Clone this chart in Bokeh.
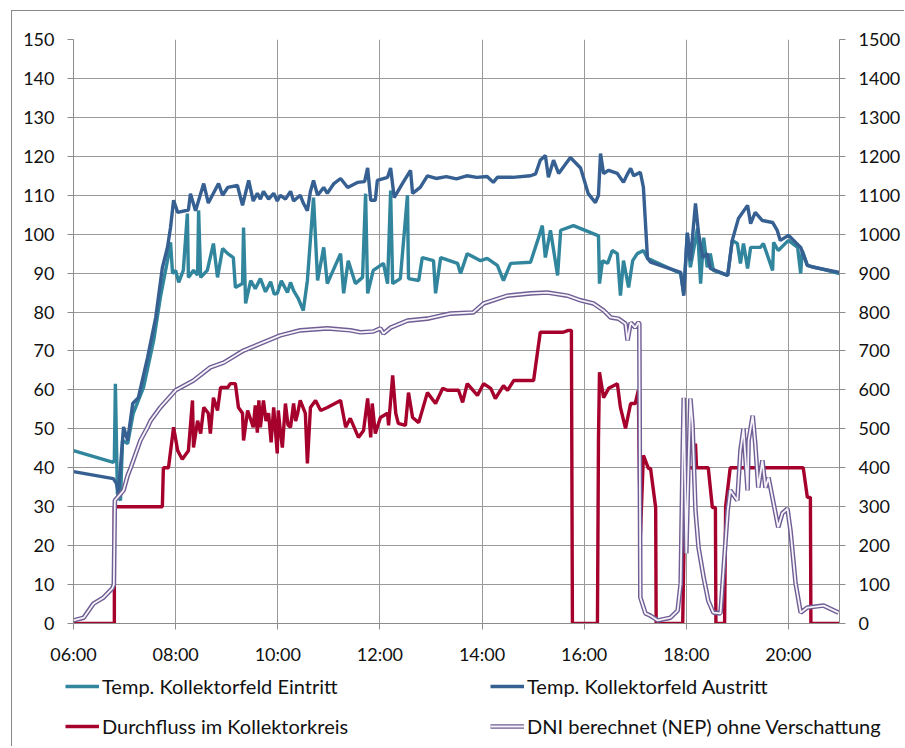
from bokeh.plotting import figure
from bokeh.models import Range1d, LinearAxis, FixedTicker, Legend, LegendItem
from bokeh.embed import file_html
from bokeh.resources import INLINE

# ---------------- data (time in decimal hours) ----------------
tick_hours = [6, 8, 10, 12, 14, 16, 18, 20]
tick_labels = ["06:00", "08:00", "10:00", "12:00", "14:00", "16:00", "18:00", "20:00"]

series_names = ["Temp. Kollektorfeld Eintritt", "Temp. Kollektorfeld Austritt",
                "Durchfluss im Kollektorkreis", "DNI berechnet (NEP) ohne Verschattung"]

aus_t = [6.00, 6.78, 6.84, 6.88, 6.98, 7.06, 7.16, 7.27, 7.45, 7.61, 7.74, 7.84, 7.90, 7.96,
         8.04, 8.25, 8.29, 8.39, 8.55, 8.64, 8.84, 8.92, 9.02, 9.21, 9.31, 9.43, 9.52, 9.60,
         9.66, 9.72, 9.82, 9.92, 9.99, 10.05, 10.15, 10.25, 10.31, 10.44, 10.50, 10.58, 10.64,
         10.70, 10.78, 10.90, 10.97, 11.10, 11.23, 11.37, 11.56, 11.70, 11.76, 11.82, 11.91,
         11.95, 12.15, 12.21, 12.28, 12.44, 12.60, 12.64, 12.79, 12.93, 13.10, 13.30, 13.50,
         13.70, 13.90, 14.10, 14.22, 14.30, 14.60, 14.95, 15.05, 15.14, 15.24, 15.30, 15.40,
         15.50, 15.73, 15.93, 16.08, 16.22, 16.28, 16.32, 16.38, 16.48, 16.65, 16.77, 16.85,
         16.91, 16.97, 17.10, 17.16, 17.24, 17.30, 17.89, 17.95, 18.02, 18.08, 18.18, 18.24,
         18.32, 18.41, 18.47, 18.81, 18.90, 19.02, 19.20, 19.26, 19.35, 19.49, 19.69, 19.78,
         19.84, 20.00, 20.24, 20.37, 20.49, 21.00]
aus_v = [39.0, 37.2, 36.0, 33.4, 50.5, 47.0, 56.5, 58.0, 68.3, 78.6, 91.4, 96.6, 101.7, 108.7,
         105.6, 106.2, 110.4, 106.0, 113.0, 108.0, 113.0, 110.0, 112.0, 112.5, 107.4, 113.8, 108.5, 110.5,
         109.0, 111.0, 109.0, 110.5, 108.5, 110.0, 109.0, 111.0, 108.5, 110.0, 108.0, 106.0, 111.0,
         113.8, 110.0, 112.0, 110.5, 113.0, 114.3, 112.0, 113.3, 113.5, 117.0, 108.7, 108.7,
         113.8, 114.6, 117.0, 109.4, 113.0, 116.4, 110.5, 112.0, 115.0, 114.3, 114.8, 114.2,
         115.0, 114.6, 114.8, 113.3, 114.6, 114.6, 115.0, 115.5, 119.0, 120.2, 114.6, 119.0,
         115.6, 119.7, 117.0, 110.4, 108.1, 110.0, 120.7, 115.6, 116.4, 115.6, 113.3, 115.5,
         116.9, 115.0, 115.9, 112.0, 93.8, 92.8, 90.2, 84.2, 100.4, 93.2, 107.9, 100.2,
         94.0, 95.0, 91.2, 89.4, 98.4, 104.0, 107.4, 102.7, 105.6, 103.5, 103.0, 101.0,
         98.4, 99.7, 96.6, 92.0, 91.5, 90.2]

ein_t = [6.00, 6.78, 6.80, 6.82, 6.86, 6.92, 6.96, 7.06, 7.17, 7.37, 7.57, 7.70, 7.84, 7.90,
         7.94, 8.00, 8.06, 8.15, 8.23, 8.25, 8.35, 8.43, 8.45, 8.49, 8.62, 8.74, 8.82, 8.92,
         9.02, 9.13, 9.17, 9.31, 9.33, 9.37, 9.47, 9.56, 9.66, 9.76, 9.86, 9.93, 9.99, 10.07,
         10.19, 10.25, 10.31, 10.40, 10.50, 10.58,
         10.70, 10.78, 10.90, 10.97, 11.23, 11.29, 11.38, 11.52, 11.66, 11.72, 11.76, 11.87,
         12.07, 12.15, 12.21, 12.25, 12.40, 12.54, 12.56, 12.76, 12.83, 13.05, 13.09, 13.19,
         13.52, 13.58, 13.71, 13.97, 14.10, 14.30, 14.42, 14.56, 14.95, 15.09, 15.18, 15.24,
         15.34, 15.48, 15.54, 15.79, 16.26, 16.28, 16.30, 16.36, 16.46, 16.55, 16.65, 16.71,
         16.77, 16.87, 16.95, 17.04, 17.16, 17.24, 17.89, 17.95, 18.02, 18.08, 18.22, 18.28,
         18.34, 18.41, 18.47, 18.53, 18.81, 18.90, 19.00, 19.06, 19.12, 19.20, 19.26, 19.45,
         19.51, 19.69, 19.71, 19.80, 20.00, 20.18, 20.24, 20.27, 20.37, 21.00]
ein_v = [44.4, 41.4, 42.0, 61.6, 33.4, 31.6, 47.0, 46.2, 54.0, 60.6, 72.7, 83.7, 93.2, 97.9,
         89.9, 90.7, 87.6, 90.7, 105.3, 88.9, 90.7, 89.5, 106.1, 88.9, 90.7, 97.6, 88.9, 96.3,
         95.0, 94.0, 86.3, 87.3, 101.7, 82.2, 88.1, 86.0, 88.6, 85.2, 87.8, 84.6, 84.8, 88.0,
         85.0, 87.6, 85.5, 83.5, 80.4, 88.1,
         109.4, 88.1, 96.6, 87.3, 95.0, 84.8, 93.2, 87.3, 88.9, 110.4, 84.8, 90.7,
         92.5, 87.3, 111.2, 87.3, 88.6, 110.0, 88.6, 88.1, 94.0, 93.2, 84.8, 94.0,
         92.5, 89.9, 95.0, 93.2, 93.8, 92.0, 88.1, 92.5, 92.8, 98.4, 102.2, 94.0,
         101.0, 89.4, 101.0, 102.2, 99.7, 99.7, 87.3, 93.2, 92.5, 95.8, 95.0, 84.2,
         93.2, 86.3, 93.2, 95.0, 95.8, 93.8, 89.9, 84.8, 100.2, 91.5, 101.5, 87.3,
         99.1, 91.5, 95.0, 90.7, 89.4, 98.4, 97.6, 92.5, 97.6, 91.2, 96.6, 96.6,
         97.6, 90.7, 97.9, 95.8, 98.4, 96.6, 89.9, 95.8, 92.0, 89.9]

flow_t = [6.00, 6.80, 6.80, 7.74, 7.76, 7.86, 7.96, 8.04, 8.13, 8.25, 8.33, 8.35, 8.43, 8.49,
          8.55, 8.64, 8.68, 8.74, 8.82, 8.88, 9.02, 9.07, 9.17, 9.23, 9.31, 9.33, 9.41, 9.52,
          9.56, 9.60, 9.63, 9.66, 9.72, 9.77, 9.82, 9.87, 9.92, 9.99, 10.01, 10.05, 10.09,
          10.15, 10.20, 10.25, 10.31, 10.35, 10.39, 10.44,
          10.54, 10.58, 10.64, 10.74, 10.84, 10.97, 11.23, 11.33, 11.42, 11.58, 11.68, 11.76,
          11.82, 11.85, 11.91, 12.01, 12.15, 12.17, 12.25, 12.31, 12.36, 12.50, 12.56, 12.64,
          12.76, 12.93, 13.09, 13.23, 13.32, 13.54, 13.62, 13.71, 13.91, 14.03, 14.17, 14.26,
          14.42, 14.50, 14.62, 15.01, 15.14, 15.59, 15.69, 15.75, 15.77, 16.26, 16.28, 16.30,
          16.38, 16.48, 16.65, 16.71, 16.81, 16.91, 17.00, 17.06, 17.10, 17.16, 17.26, 17.30,
          17.40, 17.41, 17.93, 17.98, 18.16, 18.18, 18.20, 18.43, 18.51, 18.57, 18.58, 18.75,
          18.77, 18.86, 20.29, 20.37, 20.43, 20.44, 21.00]
flow_v = [0, 0, 30, 30, 40, 40, 50.4, 44.4, 42.2, 44.4, 57.3, 45.2, 52.1, 48.8,
          55.5, 54.0, 48.8, 58.0, 54.7, 60.6, 60.6, 61.6, 61.6, 55.5, 54.0, 47.0, 54.7, 50.4,
          56.0, 49.0, 57.3, 50.4, 57.3, 52.0, 54.0, 46.5, 55.5, 43.7, 54.7, 49.5, 45.2,
          56.5, 51.0, 50.4, 56.5, 52.0, 54.0, 57.3,
          54.0, 41.1, 55.5, 57.3, 54.7, 55.5, 57.3, 50.4, 52.7, 47.8, 49.6, 57.8,
          47.8, 56.5, 48.8, 52.9, 54.0, 50.9, 63.7, 54.0, 51.4, 50.9, 59.3, 52.9,
          51.6, 59.3, 56.5, 60.4, 59.9, 59.9, 56.8, 61.6, 58.6, 61.6, 60.4, 57.8,
          61.1, 59.9, 62.4, 62.4, 74.8, 74.8, 75.3, 75.3, 0, 0, 47.0, 64.5,
          58.0, 60.4, 61.6, 55.5, 50.1, 56.5, 56.5, 59.9, 22.1, 43.2, 39.8, 39.8,
          29.8, 0, 0, 40, 40, 46.2, 40, 40, 29.8, 29.8, 0, 0,
          30, 40, 40, 32.4, 32.4, 0, 0]

dni_t = [6.00, 6.20, 6.39, 6.59, 6.76, 6.79, 6.81, 6.98, 7.06, 7.12, 7.31, 7.45, 7.51, 7.70,
         8.00, 8.35, 8.68, 8.94, 9.33, 9.66, 10.05, 10.44, 10.97, 11.42, 11.62, 11.87, 12.01,
         12.07, 12.21, 12.54, 12.93, 13.38, 13.83, 14.03, 14.50, 14.95, 15.28, 15.67, 15.93,
         16.18, 16.38, 16.52, 16.67, 16.81, 16.85, 16.91, 17.00, 17.06, 17.08, 17.10, 17.20,
         17.30, 17.44, 17.69, 17.83, 17.89, 17.93, 17.95, 18.00, 18.04, 18.08, 18.12, 18.18,
         18.24, 18.34, 18.43, 18.53, 18.67, 18.81, 18.86, 19.00, 19.06, 19.12, 19.20, 19.22,
         19.30, 19.35, 19.41, 19.49, 19.55, 19.61, 19.71, 19.80, 19.88, 19.98, 20.04, 20.14,
         20.24, 20.37, 20.69, 20.98]
dni_v = [8, 15, 51, 67, 90, 100, 316, 342, 380, 400, 470, 504, 521, 555,
         599, 624, 658, 670, 701, 719, 740, 753, 758, 753, 748, 750, 758,
         745, 760, 778, 783, 796, 799, 822, 842, 848, 850, 842, 830,
         822, 804, 786, 783, 770, 727, 773, 760, 773, 770, 67, 26,
         20, 8, 15, 33, 103, 444, 580, 180, 393, 578, 514, 290,
         195, 118, 59, 28, 26, 290, 342, 316, 444, 501, 342, 470,
         534, 462, 349, 419, 349, 375, 308, 247, 283, 295, 239, 103,
         28, 41, 46, 28]

# ---------------- styles ----------------
FONT = "Lato"
GRID = "#9a9a9a"
AXIS = "#8c8c8c"
FRAME = "1px solid #898989"
C_EIN, C_AUS, C_FLOW = "#31859C", "#376092", "#A6002C"
C_DNI_OUT, C_DNI_IN = "#6f5d93", "#f6f4fa"
LW = 3.4

# ---------------- main figure ----------------
p = figure(frame_width=766, frame_height=584, output_backend="svg", toolbar_location=None,
           x_range=Range1d(6, 21), y_range=Range1d(0, 150),
           min_border_left=61, min_border_right=65, min_border_top=28, min_border_bottom=45,
           margin=(10, 0, 0, 11), styles={"border-left": FRAME, "border-top": FRAME})
p.outline_line_color = None
p.background_fill_color = "white"
p.border_fill_color = "white"
p.extra_y_ranges = {"dni": Range1d(0, 1500)}

xt = FixedTicker(ticks=tick_hours)
yt = FixedTicker(ticks=list(range(0, 151, 10)))
yt2 = FixedTicker(ticks=list(range(0, 1501, 100)))

p.xaxis.ticker = xt
p.xaxis.major_label_overrides = {h: lab for h, lab in zip(tick_hours, tick_labels)}
p.yaxis.ticker = yt
p.xgrid.ticker = xt
p.ygrid.ticker = yt

right = LinearAxis(y_range_name="dni", ticker=yt2)
p.add_layout(right, "right")

for ax in [p.xaxis[0], p.yaxis[0], right]:
    ax.axis_line_color = AXIS
    ax.major_tick_line_color = AXIS
    ax.major_tick_out = 6
    ax.major_tick_in = 0
    ax.minor_tick_out = 0
    ax.minor_tick_in = 0
    ax.major_label_text_font = FONT
    ax.major_label_text_font_size = "18px"
    ax.major_label_text_color = "#111111"
    ax.major_label_standoff = 13

for g in [p.xgrid[0], p.ygrid[0]]:
    g.grid_line_color = GRID
    g.grid_line_width = 1

p.line(ein_t, ein_v, line_color=C_EIN, line_width=LW)
p.line(aus_t, aus_v, line_color=C_AUS, line_width=LW)
p.line(flow_t, flow_v, line_color=C_FLOW, line_width=LW)
p.line(dni_t, dni_v, y_range_name="dni", line_color=C_DNI_OUT, line_width=4.6)
p.line(dni_t, dni_v, y_range_name="dni", line_color=C_DNI_IN, line_width=1.8)

# ---------------- legend strip (separate root, not frame-aligned) ----------------
W2, H2 = 892, 78
q = figure(width=W2, height=H2, output_backend="svg", toolbar_location=None,
           x_range=Range1d(0, W2), y_range=Range1d(0, H2),
           x_axis_location=None, y_axis_location=None,
           min_border=0, min_border_left=0, min_border_right=0, min_border_top=0, min_border_bottom=0,
           margin=(0, 0, 0, 11), styles={"border-left": FRAME})
q.grid.visible = False
q.outline_line_color = None
q.background_fill_color = "white"
q.border_fill_color = "white"

off = [-50, -40]
l_ein = q.line(off, off, line_color=C_EIN, line_width=LW)
l_aus = q.line(off, off, line_color=C_AUS, line_width=LW)
l_flow = q.line(off, off, line_color=C_FLOW, line_width=LW)
l_dni_o = q.line(off, off, line_color=C_DNI_OUT, line_width=4.6)
l_dni_i = q.line(off, off, line_color=C_DNI_IN, line_width=1.8)


def mk_legend(items, loc):
    return Legend(items=items, location=loc, orientation="vertical",
                  glyph_width=34, glyph_height=22, label_standoff=3, spacing=16,
                  padding=0, margin=0, border_line_color=None, background_fill_alpha=0,
                  label_text_font=FONT, label_text_font_size="20px", label_text_color="#111111")


q.add_layout(mk_legend([LegendItem(label=series_names[0], renderers=[l_ein]),
                        LegendItem(label=series_names[2], renderers=[l_flow])], (53, 8)))
q.add_layout(mk_legend([LegendItem(label=series_names[1], renderers=[l_aus]),
                        LegendItem(label=series_names[3], renderers=[l_dni_o, l_dni_i])], (478, 8)))

open("out.html", "w").write(file_html([p, q], INLINE))
